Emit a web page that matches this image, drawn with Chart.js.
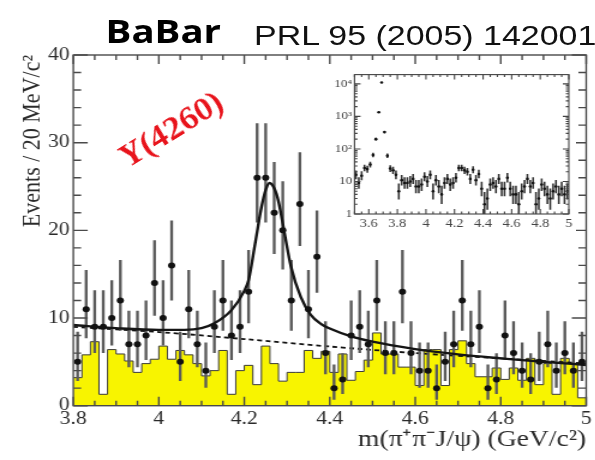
<!DOCTYPE html>
<html><head><meta charset="utf-8">
<script src="https://cdn.jsdelivr.net/npm/chart.js@4.4.1/dist/chart.umd.min.js"></script>
<style>
html,body{margin:0;padding:0;background:#fff;overflow:hidden;width:595px;height:460px;}
#stage{position:absolute;left:0;top:0;width:496px;height:460px;transform:scaleX(1.2);transform-origin:0 0;}
#main{position:absolute;left:0;top:0;}
#inset{position:absolute;left:277px;top:66px;}
.txt{position:absolute;white-space:nowrap;line-height:1;}
#babar{left:88px;top:8.6px;font:700 32px 'Open Sans',sans-serif;color:#000;}
#prl{left:211.7px;top:19.3px;font:400 28.3px 'Liberation Sans',Arial,sans-serif;color:#111;}
#ylabel{left:142.5px;top:129px;font:italic 700 31px 'Liberation Serif',serif;color:#e8141c;transform:translate(-50%,-50%) rotate(-36.5deg);}
</style></head><body>
<div id="stage">
<canvas id="main" width="496" height="460"></canvas>
<canvas id="inset" width="203" height="170"></canvas>
<div class="txt" id="babar">BaBar</div>
<div class="txt" id="prl">PRL 95 (2005) 142001</div>
<div class="txt" id="ylabel">Y(4260)</div>
</div>
<script>
// ---- data ----
const massCenters = [3.81,3.83,3.85,3.87,3.89,3.91,3.93,3.95,3.97,3.99,4.01,4.03,4.05,4.07,4.09,4.11,4.13,4.15,4.17,4.19,4.21,4.23,4.25,4.27,4.29,4.31,4.33,4.35,4.37,4.39,4.41,4.43,4.45,4.47,4.49,4.51,4.53,4.55,4.57,4.59,4.61,4.63,4.65,4.67,4.69,4.71,4.73,4.75,4.77,4.79,4.81,4.83,4.85,4.87,4.89,4.91,4.93,4.95,4.97,4.99];
const binHalfWidth = 0.01;
const eventCounts = [5,11,9,9,10,12,7,7,8,14,10,16,5,11,7,4,9,12,8,9,13,26,26,22,20,12,23,11,17,6,2,3,8,9,7,12,6,6,13,6,4,4,2,5,7,12,7,9,2,3,8,6,4,3,5,7,4,6,4,5];
const sidebandBkg = [3.2,5.8,7.3,1.3,6.4,5.9,5.1,3.8,4.8,5.3,6.8,5.3,6.3,5.8,4.8,3.4,4.0,6.3,1.3,4.0,4.6,2.4,6.8,4.8,2.8,3.8,3.8,6.3,5.4,6.2,3.8,5.9,2.9,3.9,5.2,8.3,5.9,5.9,4.4,4.4,2.3,6.4,6.4,2.3,6.4,7.4,4.8,3.3,3.3,4.3,3.0,4.3,2.9,5.4,2.4,4.8,1.3,5.4,4.8,0.9];
const fitX = [3.80,3.90,4.00,4.06,4.10,4.13,4.17,4.20,4.21,4.225,4.24,4.25,4.259,4.27,4.28,4.294,4.309,4.332,4.355,4.38,4.40,4.45,4.50,4.60,4.70,4.80,4.90,5.00];
const fitY = [9.2,8.85,8.65,8.65,8.85,9.4,10.9,13.1,14.3,18.4,22.6,24.6,25.4,24.8,23.3,19.7,15.9,12.4,10.4,9.3,8.8,7.9,7.3,6.45,5.85,5.4,5.0,4.65];
const bkgFitX = [3.80,4.00,4.20,4.40,4.60,4.80,5.00];
const bkgFitY = [9.0,8.4,7.6,6.75,6.0,5.4,4.8];
const xTickLabels = [3.8,4,4.2,4.4,4.6,4.8,5];
const yTickLabels = [0,10,20,30,40];
// inset: extra low-mass bins (psi(2S) region) + the same bins as the main plot
const insetLowCenters = [3.51,3.53,3.55,3.57,3.59,3.61,3.63,3.65,3.67,3.69,3.71,3.73,3.75,3.77,3.79];
const insetLowCounts = [16,9,15,26,24,33,65,200,1350,11000,330,62,25,22,16];
const insetXTickLabels = [3.6,3.8,4,4.2,4.4,4.6,4.8,5];
const insetYTickLabels = [1,10,100,1000,10000];
const insetYTickText = ['1','10','10\u00B2','10\u00B3','10\u2074'];

// Poisson (Gehrels) error bar limits from the counts
const errHi = n => n + Math.sqrt(n + 0.75) + 1;
const errLo = n => { if (n <= 0) return 0; const t = 1 - 1/(9*n) - 1/(3*Math.sqrt(n)); return n*t*t*t; };

function framePlugin(spec){
  return {
    id: 'frame_' + spec.name,
    beforeDraw(chart){
      if (!spec.bg) return;
      const c = chart.ctx; c.save(); c.fillStyle = spec.bg; c.fillRect(0,0,chart.width,chart.height); c.restore();
    },
    afterDraw(chart){
      const {ctx, chartArea:a, scales:{x, y}} = chart;
      ctx.save();
      ctx.strokeStyle = spec.color; ctx.lineWidth = spec.lw;
      ctx.strokeRect(a.left, a.top, a.right - a.left, a.bottom - a.top);
      ctx.beginPath();
      spec.xTicks.forEach(([v, major]) => {
        const px = x.getPixelForValue(v); const L = major ? spec.xMajor : spec.xMinor;
        ctx.moveTo(px, a.bottom); ctx.lineTo(px, a.bottom - L);
        ctx.moveTo(px, a.top); ctx.lineTo(px, a.top + L);
      });
      spec.yTicks.forEach(([v, major]) => {
        const py = y.getPixelForValue(v); const L = major ? spec.yMajor : spec.yMinor;
        ctx.moveTo(a.left, py); ctx.lineTo(a.left + L, py);
        ctx.moveTo(a.right, py); ctx.lineTo(a.right - L, py);
      });
      ctx.stroke(); ctx.restore();
    }
  };
}

// tick mark lists (decoration)
const mainXT = []; for (let k = 0; k <= 24; k++) mainXT.push([3.8 + 0.05*k, k % 4 === 0]);
const mainYT = []; for (let k = 0; k <= 20; k++) mainYT.push([2*k, k % 5 === 0]);
const insXT = []; for (let k = 0; k <= 30; k++) insXT.push([3.5 + 0.05*k, (k - 2) % 4 === 0]);
const insYT = []; for (let d = 0; d <= 4; d++) for (let m = 1; m <= 9; m++) { const v = m*Math.pow(10,d); if (v < 19300) insYT.push([v, m === 1]); }

const serif = 'Liberation Serif';
const histPoints = massCenters.map((c,i) => ({x: c - binHalfWidth, y: sidebandBkg[i]}));
histPoints.push({x: massCenters[massCenters.length-1] + binHalfWidth, y: sidebandBkg[sidebandBkg.length-1]});

new Chart(document.getElementById('main'), {
  type: 'line',
  data: { datasets: [
    { type:'line', data: histPoints, stepped: true, fill: 'origin', backgroundColor: '#f8f400', borderColor: '#3a3a3a', borderWidth: 1, pointRadius: 0, order: 6 },
    { type:'line', data: bkgFitX.map((x,i)=>({x, y: bkgFitY[i]})), borderColor:'#111', borderWidth: 1.8, borderDash:[4,3], pointRadius:0, fill:false, tension:0.3, order:5 },
    { type:'bar', data: massCenters.map((x,i)=>({x, y:[errLo(eventCounts[i]), errHi(eventCounts[i])]})), backgroundColor:'#5a5a5a', borderWidth:0, barThickness:1.7, order:4 },
    { type:'line', data: fitX.map((x,i)=>({x, y: fitY[i]})), borderColor:'#151515', borderWidth: 2.4, pointRadius:0, fill:false, cubicInterpolationMode:'monotone', order:3 },
    { type:'line', data: massCenters.map((x,i)=>({x, y: eventCounts[i]})), showLine:false, pointRadius:3, pointBackgroundColor:'#111', pointBorderWidth:0, order:2 }
  ]},
  options: {
    responsive:false, animation:false, devicePixelRatio:1,
    layout:{padding:{left:0,right:1.4,top:55,bottom:0}},
    plugins:{legend:{display:false}, tooltip:{enabled:false}},
    scales:{
      x:{ type:'linear', min:3.8, max:5.0, offset:false,
          grid:{display:false, drawTicks:false}, border:{display:false},
          afterFit(s){ s.height = 54.3; },
          afterBuildTicks(s){ s.ticks = xTickLabels.map(v=>({value:v})); },
          ticks:{ autoSkip:false, maxRotation:0, padding:3, color:'#2a2a2a', font:{family:serif, size:18}, callback:v=>String(v) },
          title:{ display:true, text:'m(\u03C0\u207A\u03C0\u207BJ/\u03C8) (GeV/c\u00B2)', align:'end', color:'#2a2a2a', font:{family:serif, size:23}, padding:{top:0,bottom:6} } },
      y:{ type:'linear', min:0, max:40,
          grid:{display:false, drawTicks:false}, border:{display:false},
          afterFit(s){ s.width = 61.1; },
          afterBuildTicks(s){ s.ticks = yTickLabels.map(v=>({value:v})); },
          ticks:{ padding:3, color:'#2a2a2a', font:{family:serif, size:18}, callback:v=>String(v) },
          title:{ display:true, text:'Events / 20 MeV/c\u00B2', align:'end', color:'#2a2a2a', font:{family:serif, size:22}, padding:{top:14,bottom:0} } }
    }
  },
  plugins:[framePlugin({name:'main', color:'#4a4a4a', lw:1.4, xTicks:mainXT, yTicks:mainYT, xMajor:9, xMinor:5, yMajor:12, yMinor:6.5})]
});

const insetCenters = insetLowCenters.concat(massCenters);
const insetCounts = insetLowCounts.concat(eventCounts);
new Chart(document.getElementById('inset'), {
  type: 'line',
  data: { datasets: [
    { type:'bar', data: insetCenters.map((x,i)=>({x, y:[Math.max(errLo(insetCounts[i]),0.5), errHi(insetCounts[i])]})), backgroundColor:'#333', borderWidth:0, barThickness:0.9, order:2 },
    { type:'line', data: insetCenters.map((x,i)=>({x, y: insetCounts[i]})), showLine:false, pointRadius:1.3, pointBackgroundColor:'#111', pointBorderWidth:0, order:1 }
  ]},
  options: {
    responsive:false, animation:false, devicePixelRatio:1,
    layout:{padding:{left:0,right:3.6,top:8,bottom:0}},
    plugins:{legend:{display:false}, tooltip:{enabled:false}},
    scales:{
      x:{ type:'linear', min:3.5, max:5.0, offset:false,
          grid:{display:false, drawTicks:false}, border:{display:false},
          afterFit(s){ s.height = 22; },
          afterBuildTicks(s){ s.ticks = insetXTickLabels.map(v=>({value:v})); },
          ticks:{ autoSkip:false, maxRotation:0, padding:3, color:'#444', font:{family:serif, size:12}, callback:v=>String(v) } },
      y:{ type:'logarithmic', min:1, max:19300,
          grid:{display:false, drawTicks:false}, border:{display:false},
          afterFit(s){ s.width = 18.4; },
          afterBuildTicks(s){ s.ticks = insetYTickLabels.map(v=>({value:v})); },
          ticks:{ padding:2, color:'#444', font:{family:serif, size:11}, callback:(v)=>{ const i = insetYTickLabels.indexOf(v); return i >= 0 ? insetYTickText[i] : ''; } } }
    }
  },
  plugins:[framePlugin({name:'inset', bg:'#fff', color:'#444', lw:1.1, xTicks:insXT, yTicks:insYT, xMajor:5, xMinor:2.5, yMajor:5, yMinor:2.5})]
});
</script>
</body></html>
